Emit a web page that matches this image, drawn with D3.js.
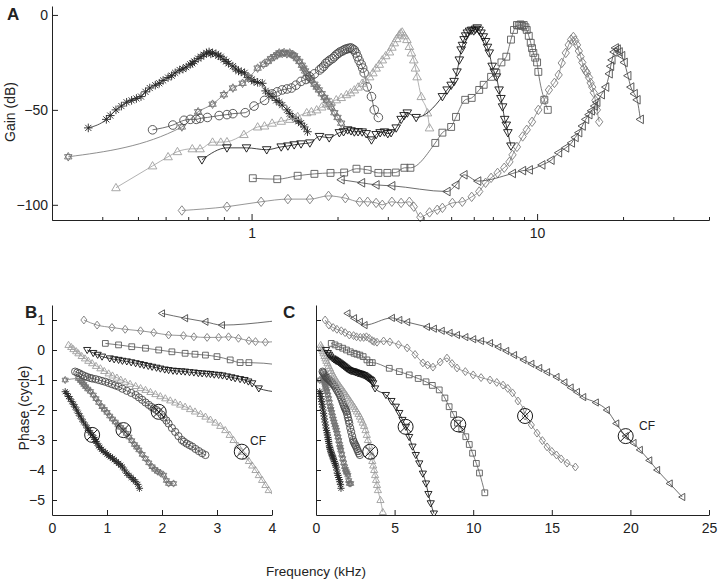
<!DOCTYPE html>
<html><head><meta charset="utf-8">
<script src="https://cdn.jsdelivr.net/npm/d3@7"></script>
<style>
body{margin:0;background:#fff}
svg{display:block}
text{font-family:"Liberation Sans",Arial,Helvetica,sans-serif;fill:#222}
</style>
</head><body>
<svg id="chart" width="720" height="584"></svg>
<script>
// ---------- DATA (frequency in kHz) ----------
const seriesKeys   = ["ast","hex","circ","triU","triD","sq","dia","triL"];
const seriesColors = ["#262626","#727272","#4a4a4a","#9e9e9e","#111111","#5a5a5a","#7c7c7c","#474747"];

// Gain (dB) vs frequency, panel A
const gainAst = [[0.268,-59.5],[0.31,-55],[0.32,-53],[0.335,-50],[0.35,-48],[0.365,-46],[0.38,-45],[0.395,-44],[0.41,-43],[0.425,-40.5],[0.44,-38.5],[0.46,-37],[0.475,-36],[0.49,-34.5],[0.51,-33],[0.525,-32],[0.54,-30.5],[0.56,-29],[0.575,-28.5],[0.59,-27.5],[0.61,-26],[0.62,-25.5],[0.63,-24.5],[0.65,-23],[0.665,-22],[0.68,-21],[0.695,-20],[0.71,-19.5],[0.72,-20.5],[0.73,-20],[0.75,-20.5],[0.765,-21.5],[0.78,-22],[0.80,-23.5],[0.815,-24.5],[0.83,-25.5],[0.86,-27],[0.88,-28.5],[0.90,-29.5],[0.92,-30],[0.945,-30.5],[0.97,-33],[1.0,-34],[1.02,-35],[1.05,-35.5],[1.09,-36],[1.12,-40],[1.15,-41.5],[1.18,-43],[1.22,-45],[1.25,-46],[1.28,-47.5],[1.33,-50],[1.36,-52],[1.39,-53.7],[1.43,-55],[1.46,-56],[1.49,-57],[1.53,-59],[1.57,-61.5]];
const gainHex = [[0.228,-74.7],[0.57,-59],[0.65,-51],[0.73,-47],[0.80,-42],[0.86,-38.5],[0.93,-36],[0.98,-33],[1.05,-28],[1.10,-26],[1.14,-24.5],[1.17,-23],[1.20,-22],[1.23,-21],[1.25,-20],[1.28,-20.3],[1.30,-19.8],[1.33,-20.5],[1.36,-20],[1.39,-21],[1.41,-21.5],[1.44,-23],[1.47,-24.5],[1.50,-26.5],[1.52,-28],[1.54,-29.5],[1.56,-31],[1.59,-33],[1.62,-34.5],[1.66,-36.5],[1.69,-38],[1.72,-39.5],[1.76,-41.5],[1.80,-43.5],[1.83,-45],[1.87,-47],[1.90,-48.5],[1.95,-51.5],[2.00,-54],[2.06,-57]];
const gainCirc = [[0.45,-60.5],[0.53,-58],[0.58,-55.5],[0.61,-55],[0.64,-55],[0.66,-54.5],[0.70,-54],[0.77,-53],[0.82,-52.5],[0.86,-52],[0.95,-51.5],[1.02,-48],[1.11,-45],[1.18,-41.6],[1.23,-40.5],[1.28,-39.5],[1.33,-39],[1.38,-38.5],[1.43,-37],[1.49,-35],[1.55,-34],[1.60,-32.6],[1.66,-31],[1.73,-29],[1.76,-28],[1.79,-27],[1.82,-25.5],[1.85,-24.7],[1.88,-23.8],[1.92,-23],[1.95,-22],[1.98,-21],[2.01,-20.3],[2.04,-19.5],[2.08,-19],[2.11,-18.4],[2.14,-18],[2.17,-17.8],[2.20,-17.5],[2.23,-17.4],[2.26,-18],[2.29,-18.5],[2.32,-20],[2.35,-22],[2.38,-24],[2.42,-26],[2.45,-28],[2.48,-30.5],[2.54,-37.9],[2.63,-43],[2.69,-50],[2.78,-54]];
const gainTriU = [[0.335,-91],[0.45,-79.5],[0.51,-74.7],[0.55,-72],[0.62,-70.5],[0.66,-70.5],[0.73,-67],[0.78,-67],[0.82,-66.8],[0.94,-63],[1.05,-59],[1.11,-58.5],[1.18,-57],[1.27,-56],[1.36,-55],[1.45,-53.5],[1.56,-51.5],[1.62,-51],[1.69,-50],[1.76,-48.5],[1.83,-47],[1.90,-46],[1.98,-44.7],[2.06,-43.5],[2.15,-42],[2.22,-41],[2.29,-39.5],[2.36,-38],[2.44,-36],[2.51,-34.5],[2.59,-32.6],[2.66,-30.5],[2.73,-28],[2.80,-26],[2.87,-23.7],[2.95,-21.5],[3.04,-19.5],[3.10,-17],[3.16,-14.7],[3.22,-12.5],[3.29,-10.5],[3.33,-9.5],[3.37,-9],[3.43,-11],[3.50,-13],[3.57,-16.6],[3.63,-20],[3.70,-23.7],[3.75,-28],[3.80,-32.6],[3.93,-43],[4.13,-51.6],[4.20,-59.5]];
const gainTriD = [[0.67,-76.3],[0.82,-70],[0.96,-70],[1.13,-71],[1.27,-69.5],[1.34,-69],[1.41,-68.4],[1.49,-67.9],[1.60,-67.4],[1.73,-64],[1.87,-64.7],[2.03,-62],[2.10,-61.5],[2.17,-60.5],[2.23,-61],[2.29,-61.6],[2.36,-61.5],[2.44,-61.6],[2.52,-62.5],[2.63,-65.8],[2.73,-63],[2.82,-62],[2.92,-61.6],[3.00,-62.5],[3.08,-62],[3.21,-59.5],[3.34,-55],[3.42,-53],[3.51,-51.6],[3.77,-54],[4.66,-43],[4.84,-39.5],[5.00,-37],[5.12,-35],[5.24,-30],[5.34,-23.7],[5.42,-18.4],[5.48,-16],[5.55,-13],[5.62,-11],[5.70,-9.5],[5.80,-8.5],[5.90,-8],[6.00,-8.4],[6.08,-7.5],[6.17,-6.8],[6.26,-8],[6.36,-9.5],[6.48,-11.5],[6.60,-14],[6.70,-17],[6.80,-20],[6.96,-27],[7.08,-30],[7.20,-32.6],[7.36,-39.5],[7.47,-44],[7.57,-48.4],[7.70,-55],[7.80,-58],[7.90,-62],[8.10,-69]];
const gainSq = [[1.01,-86],[1.23,-86.5],[1.45,-84.7],[1.66,-83.7],[1.89,-83.2],[2.11,-83],[2.33,-81],[2.55,-81.6],[2.78,-83.2],[2.99,-83.2],[3.20,-83],[3.43,-80.5],[3.60,-80.5],[4.40,-67.4],[4.66,-62],[5.00,-59],[5.20,-53.7],[5.60,-44.7],[5.90,-43.7],[6.27,-39.5],[6.50,-36.8],[6.90,-32.6],[7.20,-30.5],[7.50,-25],[7.80,-22],[8.10,-13],[8.30,-7.9],[8.50,-5.3],[8.62,-5.6],[8.75,-5],[8.87,-5.8],[8.98,-5.3],[9.10,-6.5],[9.20,-7.9],[9.35,-11],[9.50,-14.7],[9.60,-17.5],[9.70,-20],[9.85,-22.5],[10.0,-25],[10.1,-30],[10.6,-44.7],[10.9,-50]];
const gainDia = [[0.57,-103],[0.82,-101],[1.08,-98.4],[1.34,-97],[1.60,-97],[1.86,-95.3],[2.13,-96.5],[2.39,-98.4],[2.55,-98.4],[2.73,-99],[2.87,-100],[3.10,-98.4],[3.34,-99],[3.57,-98.4],[3.70,-101],[3.90,-106.5],[4.20,-104],[4.47,-102.6],[4.66,-101.6],[5.05,-99],[5.47,-98.4],[5.90,-95.8],[6.27,-93],[6.60,-88.4],[6.90,-85.8],[7.27,-83.2],[7.67,-80.5],[8.00,-77.4],[8.20,-73.7],[8.50,-69.5],[8.90,-64],[9.20,-60.5],[9.60,-56.3],[10.1,-50],[10.6,-44.7],[11.0,-39.5],[11.5,-35.8],[11.9,-31.6],[12.2,-25.3],[12.6,-20],[12.9,-15.8],[13.15,-13],[13.4,-11.6],[13.6,-13.5],[13.8,-15.8],[14.0,-19],[14.2,-22],[14.4,-25],[14.6,-28],[14.8,-29.5],[14.95,-30.5],[15.2,-33],[15.4,-35.8],[15.6,-38],[15.8,-41],[16.0,-45],[16.2,-50],[16.5,-56.3]];
const gainTriL = [[2.06,-86.8],[2.43,-88.4],[2.73,-89.5],[3.10,-90],[4.84,-93],[5.20,-89.5],[5.55,-84.2],[6.20,-87.5],[8.20,-83.5],[8.90,-82],[9.40,-81.6],[10.4,-79],[11.2,-76.5],[11.9,-72.6],[12.6,-70],[13.2,-67.4],[13.6,-64.5],[14.0,-62],[14.4,-58.5],[14.8,-55],[15.2,-52.5],[15.5,-50.5],[15.9,-48],[16.2,-46],[16.8,-42],[17.4,-38],[17.9,-31],[18.1,-27],[18.3,-23.7],[18.6,-19.5],[18.8,-17.4],[19.1,-18],[19.4,-19.5],[19.8,-21.5],[20.2,-25],[20.8,-32],[21.3,-38],[21.9,-41.5],[22.4,-44.7],[23.0,-55]];

// Phase (cycle) vs frequency, panels B and C
const phaseAst = [[0.24,-1.39],[0.27,-1.45],[0.30,-1.55],[0.33,-1.63],[0.36,-1.72],[0.39,-1.81],[0.42,-1.90],[0.45,-2.00],[0.48,-2.11],[0.51,-2.20],[0.54,-2.30],[0.57,-2.40],[0.61,-2.50],[0.64,-2.60],[0.67,-2.68],[0.70,-2.76],[0.73,-2.83],[0.76,-2.92],[0.78,-2.98],[0.80,-3.05],[0.82,-3.11],[0.85,-3.20],[0.87,-3.25],[0.90,-3.31],[0.93,-3.37],[0.97,-3.42],[1.00,-3.47],[1.03,-3.52],[1.06,-3.56],[1.10,-3.61],[1.13,-3.66],[1.17,-3.72],[1.21,-3.78],[1.25,-3.84],[1.28,-3.90],[1.32,-4.00],[1.36,-4.11],[1.40,-4.18],[1.44,-4.25],[1.48,-4.32],[1.52,-4.39],[1.56,-4.48],[1.59,-4.61]];
const phaseHex = [[0.24,-1.00],[0.48,-0.95],[0.52,-1.02],[0.55,-1.08],[0.58,-1.15],[0.61,-1.22],[0.65,-1.30],[0.70,-1.38],[0.75,-1.50],[0.80,-1.62],[0.85,-1.75],[0.91,-1.89],[0.95,-1.98],[1.00,-2.08],[1.05,-2.20],[1.10,-2.30],[1.15,-2.40],[1.20,-2.50],[1.25,-2.58],[1.30,-2.67],[1.35,-2.78],[1.40,-2.90],[1.45,-3.02],[1.50,-3.15],[1.54,-3.24],[1.58,-3.33],[1.64,-3.48],[1.70,-3.62],[1.76,-3.76],[1.82,-3.89],[1.87,-3.98],[1.92,-4.05],[1.97,-4.10],[2.03,-4.17],[2.08,-4.35],[2.12,-4.45],[2.21,-4.45]];
const phaseCirc = [[0.42,-0.72],[0.46,-0.75],[0.50,-0.78],[0.55,-0.83],[0.60,-0.87],[0.64,-0.90],[0.69,-0.93],[0.73,-0.95],[0.79,-0.97],[0.85,-1.00],[0.91,-1.03],[0.97,-1.06],[1.03,-1.10],[1.09,-1.14],[1.15,-1.18],[1.21,-1.22],[1.28,-1.29],[1.36,-1.36],[1.44,-1.43],[1.52,-1.50],[1.58,-1.58],[1.64,-1.66],[1.70,-1.75],[1.76,-1.83],[1.81,-1.90],[1.85,-1.95],[1.90,-2.00],[1.94,-2.06],[1.99,-2.15],[2.03,-2.25],[2.08,-2.35],[2.12,-2.45],[2.18,-2.60],[2.24,-2.73],[2.30,-2.87],[2.36,-3.00],[2.40,-3.06],[2.45,-3.12],[2.50,-3.17],[2.55,-3.22],[2.61,-3.30],[2.67,-3.37],[2.73,-3.44],[2.79,-3.50]];
const phaseTriU = [[0.30,0.17],[0.35,0.10],[0.39,0.03],[0.44,-0.04],[0.48,-0.11],[0.54,-0.20],[0.60,-0.28],[0.66,-0.36],[0.73,-0.44],[0.80,-0.53],[0.88,-0.61],[0.95,-0.70],[1.03,-0.78],[1.10,-0.85],[1.18,-0.92],[1.25,-0.99],[1.33,-1.06],[1.42,-1.13],[1.52,-1.20],[1.61,-1.27],[1.70,-1.33],[1.79,-1.40],[1.88,-1.47],[1.97,-1.54],[2.06,-1.61],[2.15,-1.68],[2.24,-1.75],[2.33,-1.82],[2.42,-1.89],[2.51,-1.97],[2.60,-2.05],[2.70,-2.13],[2.79,-2.22],[2.88,-2.32],[2.97,-2.42],[3.06,-2.53],[3.15,-2.67],[3.23,-2.83],[3.30,-3.00],[3.38,-3.19],[3.45,-3.39],[3.52,-3.55],[3.58,-3.70],[3.64,-3.85],[3.70,-4.00],[3.76,-4.17],[3.82,-4.33],[3.88,-4.50],[3.94,-4.67],[4.10,-5.00],[4.25,-5.40]];
const phaseTriD = [[0.64,0.00],[0.75,-0.10],[0.83,-0.16],[0.91,-0.22],[1.05,-0.28],[1.13,-0.31],[1.21,-0.33],[1.28,-0.36],[1.36,-0.38],[1.44,-0.41],[1.52,-0.44],[1.60,-0.47],[1.67,-0.50],[1.75,-0.53],[1.82,-0.56],[1.90,-0.59],[1.97,-0.62],[2.05,-0.65],[2.12,-0.67],[2.20,-0.69],[2.27,-0.70],[2.35,-0.71],[2.42,-0.72],[2.50,-0.74],[2.58,-0.75],[2.66,-0.77],[2.73,-0.78],[2.81,-0.79],[2.88,-0.80],[2.95,-0.82],[3.03,-0.83],[3.10,-0.85],[3.18,-0.88],[3.26,-0.91],[3.33,-0.94],[3.42,-0.97],[3.50,-1.00],[3.57,-1.05],[3.64,-1.11],[3.76,-1.28],[4.45,-1.50],[4.80,-1.70],[5.08,-1.89],[5.30,-2.10],[5.50,-2.33],[5.72,-2.56],[5.93,-2.90],[6.14,-3.22],[6.35,-3.50],[6.57,-3.78],[6.80,-4.12],[7.00,-4.45],[7.15,-4.80],[7.30,-5.11],[7.50,-5.45]];
const phaseSq = [[0.97,0.22],[1.21,0.17],[1.45,0.11],[1.70,0.06],[1.94,0.00],[2.18,-0.06],[2.42,-0.11],[2.60,-0.14],[2.79,-0.17],[3.00,-0.22],[3.24,-0.33],[3.42,-0.42],[3.58,-0.42],[4.66,-0.61],[5.30,-0.72],[5.93,-0.83],[6.50,-0.95],[7.00,-1.06],[7.40,-1.18],[7.84,-1.33],[8.20,-1.60],[8.47,-1.89],[8.75,-2.15],[9.00,-2.44],[9.27,-2.65],[9.53,-2.89],[9.75,-3.15],[9.96,-3.44],[10.2,-3.78],[10.4,-4.10],[10.74,-4.76]];
const phaseDia = [[0.58,1.00],[0.82,0.83],[1.09,0.75],[1.33,0.69],[1.61,0.64],[1.85,0.58],[2.12,0.50],[2.39,0.48],[2.58,0.44],[2.82,0.42],[3.03,0.42],[3.21,0.44],[3.39,0.39],[3.58,0.31],[3.70,0.28],[3.88,0.26],[4.30,0.30],[4.70,0.27],[5.25,0.18],[5.80,0.07],[6.30,-0.15],[6.80,-0.43],[7.10,-0.50],[7.44,-0.57],[7.90,-0.40],[8.33,-0.27],[8.65,-0.45],[8.97,-0.60],[9.50,-0.72],[10.0,-0.83],[10.5,-0.92],[11.07,-1.00],[11.5,-1.08],[11.9,-1.17],[12.2,-1.28],[12.5,-1.43],[12.85,-1.70],[13.2,-2.00],[13.3,-2.20],[13.7,-2.50],[14.06,-2.77],[14.4,-3.02],[14.7,-3.23],[15.0,-3.38],[15.3,-3.50],[15.6,-3.63],[15.97,-3.77],[16.5,-3.90]];
const phaseTriL = [[2.00,1.22],[2.42,1.06],[2.79,0.94],[3.09,0.83],[4.83,1.07],[5.30,1.00],[5.80,0.93],[7.06,0.77],[7.50,0.71],[8.00,0.64],[8.50,0.57],[8.97,0.50],[9.50,0.43],[10.0,0.36],[10.5,0.30],[11.07,0.23],[11.6,0.10],[12.1,-0.03],[12.6,-0.17],[13.2,-0.33],[13.7,-0.46],[14.2,-0.60],[14.7,-0.74],[15.3,-0.90],[15.8,-1.08],[16.2,-1.25],[16.6,-1.40],[17.0,-1.57],[17.8,-1.75],[18.5,-2.00],[19.1,-2.45],[19.7,-2.87],[20.2,-3.10],[20.6,-3.33],[21.2,-3.68],[21.7,-4.00],[22.5,-4.45],[23.3,-4.90]];

// Characteristic frequency markers
const cfFreq  = [0.73, 1.30, 1.94, 3.45, 5.70, 9.05, 13.3, 19.7];
const cfPhase = [-2.83, -2.67, -2.06, -3.39, -2.56, -2.48, -2.20, -2.87];
const cfInB = [0, 1, 2, 3];
const cfInC = [3, 4, 5, 6, 7];

// Axis ticks
const gainTicks = [0, -50, -100];
const freqMajorA = [1, 10];
const freqMinorA = [0.3,0.4,0.5,0.6,0.7,0.8,0.9,2,3,4,5,6,7,8,9,20,30,40];
const phaseTicks = [1, 0, -1, -2, -3, -4, -5];
const freqTicksB = [0, 1, 2, 3, 4];
const freqTicksC = [0, 5, 10, 15, 20, 25];

const gainData  = [gainAst, gainHex, gainCirc, gainTriU, gainTriD, gainSq, gainDia, gainTriL];
const phaseData = [phaseAst, phaseHex, phaseCirc, phaseTriU, phaseTriD, phaseSq, phaseDia, phaseTriL];

// ---------- DRAWING ----------
const svg = d3.select("#chart");
const axisColor = "#222";

function markerPath(type, r) {
  switch (type) {
    case "ast": {
      let p = "";
      for (let a = 0; a < 180; a += 45) {
        const t = a * Math.PI / 180, dx = r * Math.cos(t), dy = r * Math.sin(t);
        p += `M${-dx},${-dy}L${dx},${dy}`;
      }
      return p;
    }
    case "hex": {
      const pts = (off) => [0,1,2].map(i => { const t = (off + i*120) * Math.PI/180; return [r*Math.cos(t), r*Math.sin(t)]; });
      const tri = (ps) => "M" + ps.map(p => p.join(",")).join("L") + "Z";
      return tri(pts(-90)) + tri(pts(90));
    }
    case "circ":
      return `M${r},0A${r},${r} 0 1,1 ${-r},0A${r},${r} 0 1,1 ${r},0Z`;
    case "triU":
      return `M0,${-r}L${r},${r*0.7}L${-r},${r*0.7}Z`;
    case "triD":
      return `M0,${r}L${r},${-r*0.7}L${-r},${-r*0.7}Z`;
    case "triL":
      return `M${-r},0L${r*0.7},${-r}L${r*0.7},${r}Z`;
    case "sq": {
      const s = r * 0.8;
      return `M${-s},${-s}H${s}V${s}H${-s}Z`;
    }
    case "dia":
      return `M0,${-r*1.1}L${r*0.85},0L0,${r*1.1}L${-r*0.85},0Z`;
  }
}

function drawSeries(g, data, x, y, key, color, r, filterFn) {
  const line = d3.line().x(d => x(d[0])).y(d => y(d[1])).curve(d3.curveMonotoneX);
  g.append("path").datum(data).attr("d", line)
    .attr("fill", "none").attr("stroke", color).attr("stroke-width", 0.8);
  g.selectAll(null).data(data.filter(filterFn)).enter().append("path")
    .attr("transform", d => `translate(${x(d[0])},${y(d[1])})`)
    .attr("d", markerPath(key, r))
    .attr("fill", "none").attr("stroke", color).attr("stroke-width", 0.9);
}

function styleAxis(g) {
  g.selectAll("path.domain").attr("stroke", axisColor).attr("stroke-width", 1);
  g.selectAll(".tick line").attr("stroke", axisColor).attr("stroke-width", 1);
  g.selectAll("text").attr("font-size", 14).attr("fill", "#222")
    .attr("font-family", '"Liberation Sans",Arial,Helvetica,sans-serif');
}

// ----- Panel A -----
const xA = d3.scaleLog().domain([0.2, 40]).range([52, 709]);
const yA = d3.scaleLinear().domain([-108, 4.7]).range([220, 6]);

const gA = svg.append("g");
seriesKeys.forEach((k, i) => drawSeries(gA, gainData[i], xA, yA, k, seriesColors[i], 4.3, () => true));

gA.append("g").attr("transform", "translate(0,220)")
  .call(d3.axisBottom(xA).tickValues(freqMinorA).tickSizeInner(-3).tickSizeOuter(0).tickFormat(""))
  .call(styleAxis);
gA.append("g").attr("transform", "translate(0,220)")
  .call(d3.axisBottom(xA).tickValues(freqMajorA).tickSizeInner(-6).tickSizeOuter(0).tickPadding(8).tickFormat(d3.format("d")))
  .call(styleAxis);
gA.append("g").attr("transform", "translate(52,0)")
  .call(d3.axisLeft(yA).tickValues(gainTicks).tickSizeInner(-6).tickSizeOuter(0).tickPadding(4))
  .call(styleAxis);

svg.append("text").attr("x", 7).attr("y", 20).attr("font-size", 17).attr("font-weight", "bold").text("A");
svg.append("text").attr("transform", "translate(15,112) rotate(-90)").attr("text-anchor", "middle")
  .attr("font-size", 14).text("Gain (dB)");

// ----- Panels B and C -----
const yP = d3.scaleLinear().domain([-5.5, 1.5]).range([515, 305]);
const xB = d3.scaleLinear().domain([0, 4]).range([52, 272]);
const xC = d3.scaleLinear().domain([0, 25]).range([316, 709]);

const defs = svg.append("defs");
defs.append("clipPath").attr("id", "clipB").append("rect").attr("x", 52).attr("y", 305).attr("width", 220).attr("height", 210);
defs.append("clipPath").attr("id", "clipC").append("rect").attr("x", 316).attr("y", 305).attr("width", 393).attr("height", 210);

const gB = svg.append("g").attr("clip-path", "url(#clipB)");
seriesKeys.forEach((k, i) => drawSeries(gB, phaseData[i], xB, yP, k, seriesColors[i], 3.6, d => d[0] <= 4.02));
const gC = svg.append("g").attr("clip-path", "url(#clipC)");
seriesKeys.forEach((k, i) => drawSeries(gC, phaseData[i], xC, yP, k, seriesColors[i], 3.6, d => d[0] <= 25));

function cfMark(g, x, y, idx) {
  idx.forEach(i => {
    const cx = x(cfFreq[i]), cy = yP(cfPhase[i]);
    const m = g.append("g").attr("transform", `translate(${cx},${cy})`);
    m.append("circle").attr("r", 7.5).attr("fill", "none").attr("stroke", "#1a1a1a").attr("stroke-width", 1);
    m.append("path").attr("d", "M-5.3,-5.3L5.3,5.3M-5.3,5.3L5.3,-5.3").attr("stroke", "#1a1a1a").attr("stroke-width", 1);
  });
}
cfMark(svg.append("g"), xB, yP, cfInB);
cfMark(svg.append("g"), xC, yP, cfInC);

svg.append("g").attr("transform", "translate(0,515)")
  .call(d3.axisBottom(xB).tickValues(freqTicksB).tickSizeInner(-5).tickSizeOuter(0).tickPadding(8).tickFormat(d3.format("d")))
  .call(styleAxis);
svg.append("g").attr("transform", "translate(52,0)")
  .call(d3.axisLeft(yP).tickValues(phaseTicks).tickSizeInner(-5).tickSizeOuter(0).tickPadding(7).tickFormat(d3.format("d")))
  .call(styleAxis);
svg.append("g").attr("transform", "translate(0,515)")
  .call(d3.axisBottom(xC).tickValues(freqTicksC).tickSizeInner(-5).tickSizeOuter(0).tickPadding(8).tickFormat(d3.format("d")))
  .call(styleAxis);
svg.append("g").attr("transform", "translate(316,0)")
  .call(d3.axisLeft(yP).tickValues(phaseTicks).tickSizeInner(-5).tickSizeOuter(0).tickFormat(""))
  .call(styleAxis);

svg.append("text").attr("x", 25).attr("y", 318).attr("font-size", 17).attr("font-weight", "bold").text("B");
svg.append("text").attr("x", 283).attr("y", 318).attr("font-size", 17).attr("font-weight", "bold").text("C");
svg.append("text").attr("transform", "translate(29,408) rotate(-90)").attr("text-anchor", "middle")
  .attr("font-size", 14).text("Phase (cycle)");
svg.append("text").attr("x", 316).attr("y", 576).attr("text-anchor", "middle")
  .attr("font-size", 13.5).text("Frequency (kHz)");
svg.append("text").attr("x", 250).attr("y", 445).attr("font-size", 12).text("CF");
svg.append("text").attr("x", 639).attr("y", 430).attr("font-size", 12).text("CF");
</script>
</body></html>
